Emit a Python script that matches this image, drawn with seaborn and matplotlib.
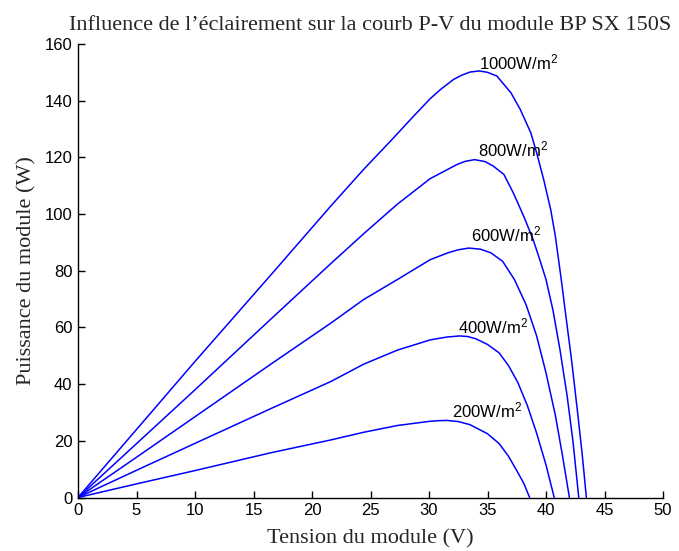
import pandas as pd
import matplotlib
matplotlib.use('Agg')
import matplotlib.pyplot as plt
import seaborn as sns

# Courbes P-V (tension en V, puissance en W)
V_1000 = [0, 2.5, 5, 10, 16.5, 21.6, 24.4, 26.7, 28.7, 30.1, 31.0, 32.1, 32.8, 33.5, 34.3, 35.0, 35.8, 37.0,
          37.8, 38.7, 39.2, 39.8, 40.4, 40.8, 41.3, 41.7, 42.2, 42.7, 43.1, 43.45]
P_1000 = [0, 12, 24, 48, 78.6, 102.8, 115.7, 125.7, 134.6, 140.7, 144.0, 147.5, 149.0, 150.1, 150.5, 150.0, 148.7, 142.8,
          136.9, 128.7, 121.6, 112.2, 101.6, 92.2, 77, 64, 48, 30, 15, 0]

V_800 = [0, 2.5, 5, 10, 16.5, 21.6, 24.4, 27.3, 30.1, 32.4, 33.1, 33.9, 34.8, 35.5, 36.4, 37.2, 38.1, 38.9,
         39.5, 40.0, 40.6, 41.2, 41.8, 42.3, 42.8]
P_800 = [0, 9.5, 19, 38, 63, 82.5, 93, 103.5, 112.5, 117.5, 118.6, 119.2, 118.5, 116.9, 114, 107.5, 99.2, 91,
         83.5, 76.9, 66, 52, 36, 20, 0]

V_600 = [0, 2.5, 5, 10, 16.5, 21.6, 24.4, 27.3, 30.1, 31.6, 32.5, 33.4, 34.4, 35.3, 36.3, 37.3, 38.3, 39.2,
         40.0, 40.8, 41.4, 42.0]
P_600 = [0, 7.1, 14.2, 28.5, 47.1, 61.5, 69.8, 76.9, 83.9, 86.3, 87.4, 88.0, 87.6, 86.3, 83.3, 76.9, 68, 57,
         44, 29, 15, 0]

V_400 = [0, 2.5, 5, 10, 16.5, 21.6, 24.4, 27.3, 30.1, 31.5, 32.6, 33.3, 34.0, 35.0, 36.0, 36.8, 37.6, 38.4,
         39.2, 40.0, 40.7]
P_400 = [0, 4.8, 9.6, 19.1, 31.4, 40.9, 47.0, 52.0, 55.6, 56.6, 57.0, 56.8, 56.0, 54.0, 51.0, 46.5, 40.5, 32.5,
         22.7, 11.5, 0]

V_200 = [0, 2.5, 5, 10, 16.5, 21.6, 24.4, 27.3, 30.1, 30.8, 31.5, 32.5, 33.5, 35.0, 36.0, 36.8, 37.5, 38.1, 38.6]
P_200 = [0, 2.4, 4.8, 9.5, 15.8, 20.3, 23.0, 25.4, 26.9, 27.1, 27.2, 26.8, 25.7, 22.5, 19.0, 14.5, 9.5, 5.0, 0]

irradiances = ['1000W/m$^2$', '800W/m$^2$', '600W/m$^2$', '400W/m$^2$', '200W/m$^2$']
label_V = [34.3, 34.2, 33.6, 32.5, 32.0]
label_P = [150.9, 120.4, 90.2, 58.0, 28.3]

curves = [(V_1000, P_1000), (V_800, P_800), (V_600, P_600), (V_400, P_400), (V_200, P_200)]
frames = []
for name, (v, p) in zip(irradiances, curves):
    frames.append(pd.DataFrame({'V': v, 'P': p, 'G': name}))
df = pd.concat(frames, ignore_index=True)

sns.set_style('ticks')
plt.rcParams['font.family'] = ['Liberation Sans', 'DejaVu Sans']
plt.rcParams['mathtext.fontset'] = 'custom'
plt.rcParams['mathtext.rm'] = 'Liberation Sans'
plt.rcParams['mathtext.it'] = 'Liberation Sans:italic'

fig = plt.figure(figsize=(6.79, 5.51), dpi=100)
ax = fig.add_axes([78 / 679, 1 - 497.5 / 551, (663 - 78) / 679, (497.5 - 44) / 551])

sns.lineplot(data=df, x='V', y='P', hue='G', palette=['#0000ff'] * 5, estimator=None,
             legend=False, linewidth=1.1, ax=ax)

for name, x, y in zip(irradiances, label_V, label_P):
    ax.text(x, y, name, fontsize=12, ha='left', va='baseline', color='black')

ax.set_xlim(0, 50)
ax.set_ylim(0, 160)
ax.set_xticks(range(0, 51, 5))
ax.set_yticks(range(0, 161, 20))
ax.tick_params(direction='in', length=5, width=1, labelsize=12, colors='black', pad=4)
sns.despine(ax=ax)
for s in ['left', 'bottom']:
    ax.spines[s].set_color('black')
    ax.spines[s].set_linewidth(1)

serif = ['Liberation Serif', 'DejaVu Serif']
ax.set_title('Influence de l’éclairement sur la courb P-V du module BP SX 150S',
             family=serif, fontsize=16, pad=10)
ax.set_xlabel('Tension du module (V)', family=serif, fontsize=16, labelpad=8)
ax.set_ylabel('Puissance du module (W)', family=serif, fontsize=16, labelpad=6)

fig.savefig('out.png', dpi=100)
